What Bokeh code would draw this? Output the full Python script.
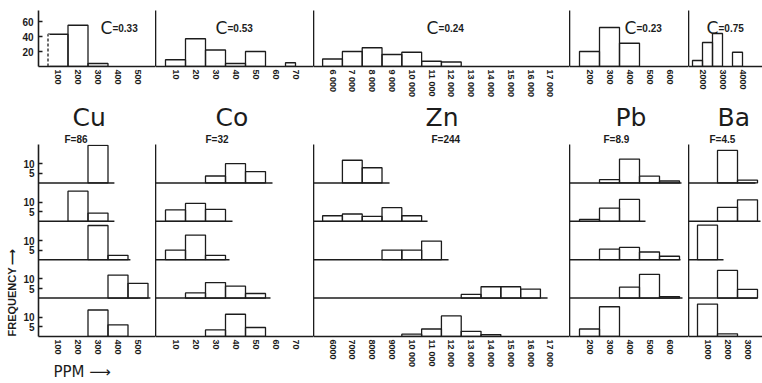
from bokeh.plotting import figure
from bokeh.layouts import row, column
from bokeh.models import Range1d, FixedTicker, Title, CustomJSTickFormatter
from bokeh.core.properties import value
from bokeh.embed import file_html
from bokeh.resources import INLINE

# ---------------------------------------------------------------- data
elements = ["Cu", "Co", "Zn", "Pb", "Ba"]
f_ratios = ["F=86", "F=32", "F=244", "F=8.9", "F=4.5"]
c_coeffs = ["=0.33", "=0.53", "=0.24", "=0.23", "=0.75"]

# whole sample: bin edges (ppm) and percent of samples
cu_all_lo = [50, 150, 250]
cu_all_hi = [150, 250, 350]
cu_all_pct = [43, 55, 4]
co_all_lo = [5, 15, 25, 35, 45, 65]
co_all_hi = [15, 25, 35, 45, 55, 70]
co_all_pct = [9, 37, 22, 4, 20, 5]
zn_all_lo = [5500, 6500, 7500, 8500, 9500, 10500, 11500]
zn_all_hi = [6500, 7500, 8500, 9500, 10500, 11500, 12500]
zn_all_pct = [10, 20, 25, 16, 19, 7, 6]
pb_all_lo = [150, 250, 350]
pb_all_hi = [250, 350, 450]
pb_all_pct = [20, 52, 31]
ba_all_lo = [1500, 2000, 2500, 3500]
ba_all_hi = [2000, 2500, 3000, 4000]
ba_all_pct = [8, 32, 44, 19]

# five groups (top row first): frequency per bin centre
cu_bins = [100, 200, 300, 400, 500]
cu_freq = [
    [0, 0, 19.5, 0, 0],
    [0, 15.7, 4.3, 0, 0],
    [0, 0, 17.8, 2.3, 0],
    [0, 0, 0, 12.0, 7.7],
    [0, 0, 13.8, 6.1, 0],
]
co_bins = [10, 20, 30, 40, 50, 60, 70]
co_freq = [
    [0, 0, 3.6, 10.0, 5.9, 0, 0],
    [5.9, 9.3, 6.2, 0, 0, 0, 0],
    [5.0, 12.8, 2.3, 0, 0, 0, 0],
    [0, 2.7, 8.1, 6.2, 2.4, 0, 0],
    [0, 0, 3.4, 11.6, 4.7, 0, 0],
]
zn_bins = [6000, 7000, 8000, 9000, 10000, 11000, 12000, 13000, 14000, 15000, 16000, 17000]
zn_freq = [
    [0, 11.8, 7.9, 0, 0, 0, 0, 0, 0, 0, 0, 0],
    [2.9, 3.8, 2.6, 7.1, 2.9, 0, 0, 0, 0, 0, 0, 0],
    [0, 0, 0, 5.0, 5.0, 9.7, 0, 0, 0, 0, 0, 0],
    [0, 0, 0, 0, 0, 0, 0, 1.9, 5.9, 5.9, 4.7, 0],
    [0, 0, 0, 0, 1.2, 3.9, 10.7, 2.7, 1.0, 0, 0, 0],
]
pb_bins = [200, 300, 400, 500, 600]
pb_freq = [
    [0, 1.7, 12.4, 3.5, 1.0],
    [1.0, 6.9, 11.4, 0, 0],
    [0, 5.5, 6.4, 4.0, 1.8],
    [0, 0, 5.7, 12.4, 0.8],
    [3.9, 15.5, 0, 0, 0],
]
ba_bins = [1000, 2000, 3000]
ba_freq = [
    [0, 16.9, 1.4],
    [0, 7.3, 11.2],
    [18.0, 0, 0],
    [0, 14.4, 4.5],
    [16.9, 1.4, 0],
]
bin_widths = [100, 10, 1000, 100, 1000]

# extent of the base line drawn under groups 1-4
cu_base_end = [382, 382, 462, 562]
co_base_end = [58.5, 38.5, 37, 57.5]
zn_base_end = [8880, 10800, 11860, 16860]
pb_base_end = [660, 480, 655, 665]
ba_base_end = [3400, 3650, 1800, 3500]

# tick values and labels
top_ticks = [cu_bins, co_bins, zn_bins, pb_bins, [2000, 3000, 4000]]
bot_ticks = [cu_bins, co_bins, zn_bins, pb_bins, ba_bins]
zn_top_labels = {t: f"{t // 1000} 000" for t in zn_bins}
zn_bot_labels = {t: (f"{t // 1000} 000" if t >= 10000 else str(t)) for t in zn_bins}

all_lo = [cu_all_lo, co_all_lo, zn_all_lo, pb_all_lo, ba_all_lo]
all_hi = [cu_all_hi, co_all_hi, zn_all_hi, pb_all_hi, ba_all_hi]
all_pct = [cu_all_pct, co_all_pct, zn_all_pct, pb_all_pct, ba_all_pct]
bins = [cu_bins, co_bins, zn_bins, pb_bins, ba_bins]
freqs = [cu_freq, co_freq, zn_freq, pb_freq, ba_freq]
base_ends = [cu_base_end, co_base_end, zn_base_end, pb_base_end, ba_base_end]

# ---------------------------------------------------------------- layout / style
INK = "#1c1c1c"
TICK_FONT = "Liberation Sans"
COL_W = [155, 158, 256, 119, 74]
LEFT_PAD = 38
TOP_H, BOT_H = 100, 283
top_xr = [(2.5, 587.5), (0, 79), (5040, 17968), (100, 695), (1300, 5000)]
bot_xr = [(2.5, 587.5), (0, 79), (5040, 17968), (100, 695), (50, 3750)]
ROW_STEP = 20
c_label_x = [312, 30, 10750, 375, 2200]
c_label_y = 51
sym_offset = [34, 60, 112, 46, 29]
f_offset = [26, 50, 118, 34, 21]


def make_fig(width, height, xr, yr, left, top, bottom):
    p = figure(width=width, height=height, x_range=Range1d(*xr), y_range=Range1d(*yr),
               output_backend="svg", toolbar_location=None, title=None,
               min_border_left=left, min_border_right=0,
               min_border_top=top, min_border_bottom=bottom)
    p.outline_line_color = None
    p.background_fill_color = "white"
    p.border_fill_color = "white"
    p.xgrid.visible = False
    p.ygrid.visible = False
    for ax in (p.xaxis[0], p.yaxis[0]):
        ax.axis_line_color = INK
        ax.axis_line_width = 1.6
        ax.major_tick_out = 0
        ax.major_tick_in = 0
        ax.minor_tick_out = 0
        ax.minor_tick_in = 0
        ax.major_tick_line_color = INK
        ax.major_tick_line_width = 1.3
        ax.major_label_text_font = TICK_FONT
        ax.major_label_text_font_style = "bold"
        ax.major_label_text_font_size = "9px"
        ax.major_label_text_color = INK
    p.xaxis.major_label_orientation = "vertical"
    p.xaxis.major_label_standoff = 3
    p.yaxis.ticker = FixedTicker(ticks=[], minor_ticks=[])
    p.yaxis.major_label_standoff = 0
    return p


tops, bots = [], []
for i in range(5):
    # ---- whole-sample histogram
    pt = make_fig(COL_W[i], TOP_H, top_xr[i], (0, 74.7),
                  LEFT_PAD if i == 0 else 0, 10, 34)
    pt.xaxis.ticker = FixedTicker(ticks=top_ticks[i], minor_ticks=[])
    if i == 2:
        pt.xaxis.major_label_overrides = zn_top_labels
    pt.quad(left=all_lo[i], right=all_hi[i], bottom=0, top=all_pct[i],
            fill_color=None, line_color=INK, line_width=1.3)
    if i == 0:
        # open-ended lowest class: dashed left side
        pt.segment(x0=all_lo[0][:1], y0=[0], x1=all_lo[0][:1], y1=all_pct[0][:1],
                   line_color="white", line_width=3)
        pt.segment(x0=all_lo[0][:1], y0=[0], x1=all_lo[0][:1], y1=all_pct[0][:1],
                   line_color=INK, line_width=1.3, line_dash="3 2")
        pt.yaxis.ticker = FixedTicker(ticks=[20, 40, 60], minor_ticks=[])
        pt.yaxis.major_tick_in = 4
        pt.yaxis.major_label_standoff = 5
        pt.yaxis.major_label_text_font_size = "10px"
    pt.text(x=[c_label_x[i]], y=[c_label_y], text=["C"],
            text_font=value("DejaVu Sans"), text_font_size="17px",
            text_color=INK, text_baseline="alphabetic", text_align="left")
    pt.text(x=[c_label_x[i]], y=[c_label_y], text=[c_coeffs[i]], x_offset=12,
            text_font=value(TICK_FONT), text_font_size="10px", text_font_style="bold",
            text_color=INK, text_baseline="alphabetic", text_align="left")
    tops.append(pt)

    # ---- five stacked group histograms
    pb_ = make_fig(COL_W[i], BOT_H, bot_xr[i], (0, 5 * ROW_STEP),
                   LEFT_PAD if i == 0 else 0, 43, 47)
    pb_.xaxis.ticker = FixedTicker(ticks=bot_ticks[i], minor_ticks=[])
    if i == 2:
        pb_.xaxis.major_label_overrides = zn_bot_labels
    w = bin_widths[i]
    left, right, bottom, top = [], [], [], []
    for r, counts in enumerate(freqs[i]):
        base = (4 - r) * ROW_STEP
        for c, v in zip(bins[i], counts):
            if v > 0:
                left.append(c - w / 2)
                right.append(c + w / 2)
                bottom.append(base)
                top.append(base + v)
    pb_.quad(left=left, right=right, bottom=bottom, top=top,
             fill_color=None, line_color=INK, line_width=1.3)
    bases = [(4 - r) * ROW_STEP for r in range(4)]
    pb_.segment(x0=[bot_xr[i][0]] * 4, y0=bases, x1=base_ends[i], y1=bases,
                line_color=INK, line_width=1.5)
    if i == 0:
        yt = [(4 - r) * ROW_STEP + d for r in range(5) for d in (5, 10)]
        pb_.yaxis.ticker = FixedTicker(ticks=sorted(yt), minor_ticks=[])
        pb_.yaxis.formatter = CustomJSTickFormatter(code="return String(Math.round(tick % 20));")
        pb_.yaxis.major_tick_in = 4
        pb_.yaxis.major_label_standoff = 4
        pb_.yaxis.major_label_text_font_size = "10px"
        pb_.add_layout(Title(text="FREQUENCY \u27f6", align="left", offset=0, standoff=5,
                             text_font=TICK_FONT, text_font_style="bold",
                             text_font_size="11px", text_color=INK), "left")
        pb_.add_layout(Title(text="PPM \u27f6", align="left", offset=15, standoff=6,
                             text_font="DejaVu Sans", text_font_style="normal",
                             text_font_size="15px", text_color=INK), "below")
    pb_.add_layout(Title(text=f_ratios[i], align="left", offset=f_offset[i], standoff=0,
                         text_font=TICK_FONT, text_font_style="bold",
                         text_font_size="10px", text_color=INK), "above")
    pb_.add_layout(Title(text=elements[i], align="left", offset=sym_offset[i], standoff=0,
                         text_font="DejaVu Sans", text_font_style="normal",
                         text_font_size="25px", text_color=INK), "above")
    bots.append(pb_)

layout = column(row(*tops, spacing=0), row(*bots, spacing=0), spacing=0)

with open("out.html", "w") as fh:
    fh.write(file_html(layout, INLINE, title="Trace element histograms"))
